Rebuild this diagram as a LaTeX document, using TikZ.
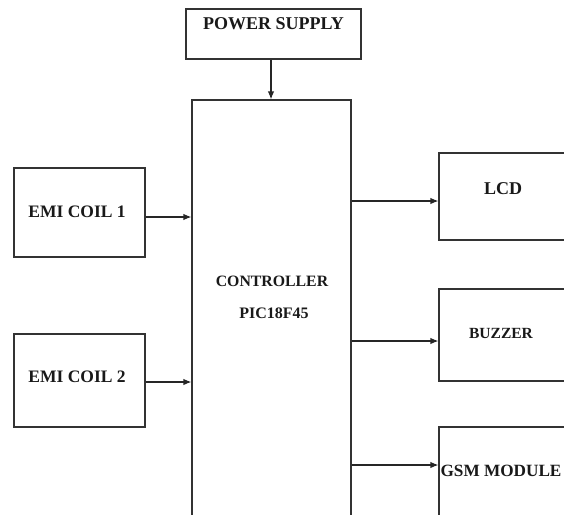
\documentclass[tikz,border=0pt]{standalone}
\usepackage{fontspec}
\setmainfont{Liberation Serif}
\usetikzlibrary{arrows.meta}
\begin{document}
\begin{tikzpicture}[x=1pt,y=-1pt,
  box/.style={draw=black!80,line width=1.2pt,rectangle,inner sep=0,minimum width=#1},
  lbl/.style={font=\fontsize{#1}{#1}\selectfont\bfseries,inner sep=0,text=black!90},
  arr/.style={draw=black!85,line width=1.2pt,-{Latex[length=8pt,width=6.5pt]}}]
\useasboundingbox (0,0) rectangle (564,514);
\clip (0,0) rectangle (564,514);
\node[box=175pt,minimum height=50pt] (ps) at (273.5,34) {};
\node[box=159pt,minimum height=430pt] (ctrl) at (271.5,315) {};
\node[box=131pt,minimum height=89pt] (e1) at (79.5,212.5) {};
\node[box=131pt,minimum height=93pt] (e2) at (79.5,380.5) {};
\node[box=131pt,minimum height=87pt] (lcd) at (504.5,196.5) {};
\node[box=131pt,minimum height=92pt] (buz) at (504.5,335) {};
\node[box=131pt,minimum height=100pt] (gsm) at (504.5,477) {};
\node[lbl=18] (tps) at (273.5,24) {POWER SUPPLY};
\node[lbl=17.5] (te1) at (77,212) {EMI COIL 1};
\node[lbl=17.5] (te2) at (77,377) {EMI COIL 2};
\node[lbl=18] (tlcd) at (503,189) {LCD};
\node[lbl=15.5] (tbuz) at (501,333) {BUZZER};
\node[lbl=17.2] (tgsm) at (501,471) {GSM MODULE};
\node[lbl=15.8] (tc1) at (272,281) {CONTROLLER};
\node[lbl=16] (tc2) at (274,313) {PIC18F45};
\draw[arr] ([xshift=-2.5pt]ps.south) -- ([xshift=-2.5pt]ps.south |- ctrl.north);
\coordinate (a1) at ([yshift=-4.5pt]e1.east);
\coordinate (a2) at ([yshift=-1.5pt]e2.east);
\draw[arr] (a1) -- (a1 -| ctrl.west);
\draw[arr] (a2) -- (a2 -| ctrl.west);
\coordinate (b1) at ([yshift=-4.5pt]lcd.west);
\coordinate (b2) at ([yshift=-6pt]buz.west);
\coordinate (b3) at ([yshift=12pt]gsm.west);
\draw[arr] (b1 -| ctrl.east) -- (b1);
\draw[arr] (b2 -| ctrl.east) -- (b2);
\draw[arr] (b3 -| ctrl.east) -- (b3);
\end{tikzpicture}
\end{document}
